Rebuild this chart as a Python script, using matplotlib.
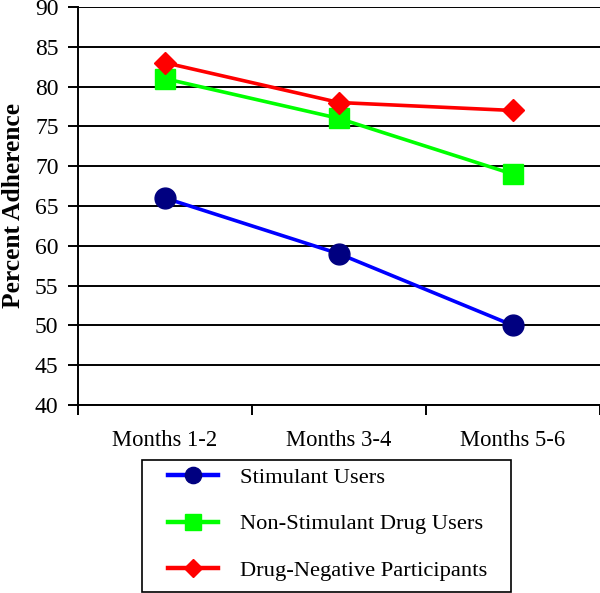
import numpy as np
import matplotlib.pyplot as plt
from matplotlib.patches import Rectangle

periods = ['Months 1-2', 'Months 3-4', 'Months 5-6']
stimulant = [66, 59, 50]
non_stimulant = [81, 76, 69]
drug_negative = [83, 78, 77]

plt.rcParams['font.family'] = ['Liberation Serif', 'DejaVu Serif']

fig = plt.figure(figsize=(6.0, 5.93), dpi=100)
ax = fig.add_axes([78 / 600, 1 - 405 / 593, 1 - 78 / 600, 398 / 593])

x = np.arange(len(periods))
ax.plot(x, stimulant, color='#0000ff', lw=2.6, marker='o', ms=15,
        mfc='#000080', mec='#000080', label='Stimulant Users', zorder=3)
ax.plot(x, non_stimulant, color='#00ff00', lw=2.6, marker='s', ms=15,
        mfc='#00ff00', mec='#00ff00', label='Non-Stimulant Drug Users', zorder=4)
ax.plot(x, drug_negative, color='#ff0000', lw=2.6, marker='D', ms=11.5,
        mfc='#ff0000', mec='#ff0000', label='Drug-Negative Participants', zorder=5)

ax.set_xlim(-0.5, 2.5)
ax.set_ylim(40, 90)
ax.set_yticks(np.arange(40, 91, 5))
ax.yaxis.grid(True, color='black', lw=1.4)
ax.set_axisbelow(True)

ax.set_xticks(x)
ax.set_xticklabels(periods)
ax.set_xticks([-0.5, 0.5, 1.5, 2.5], minor=True)
ax.tick_params(axis='x', which='major', length=0, labelsize=16.3, pad=18)
ax.tick_params(axis='x', which='minor', length=7, width=1.4, direction='out')
ax.tick_params(axis='y', length=7, width=1.4, labelsize=17, pad=7)

for s in ['top', 'right']:
    ax.spines[s].set_visible(False)
for s in ['left', 'bottom']:
    ax.spines[s].set_linewidth(1.4)

ax.set_ylabel('Percent Adherence', fontsize=18.4, fontweight='bold', labelpad=7)

# legend box drawn separately so its padding matches the original
fig.patches.append(Rectangle((142 / 600, 1 - 592 / 593), 369 / 600, 132 / 593,
                             transform=fig.transFigure, fill=False,
                             edgecolor='black', lw=1.2))
leg = fig.legend(loc='center left', bbox_to_anchor=(168 / 600, 1 - 524 / 593),
                 fontsize=16.2, frameon=False, handlelength=2.22,
                 labelspacing=1.14, borderpad=0, handletextpad=0.98,
                 borderaxespad=0, markerscale=0.78)
for line in leg.get_lines():
    line.set_linewidth(3.2)

fig.savefig('out.png', dpi=100)
